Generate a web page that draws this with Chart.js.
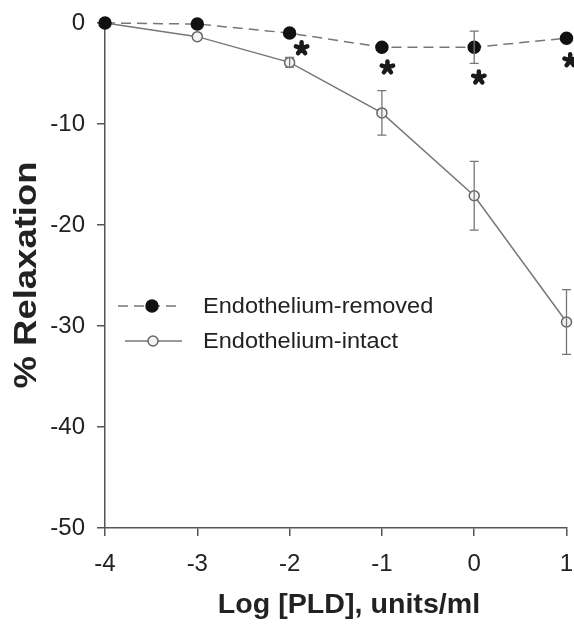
<!DOCTYPE html>
<html>
<head>
<meta charset="utf-8">
<script src="https://cdn.jsdelivr.net/npm/chart.js@4/dist/chart.umd.min.js"></script>
<style>
  html, body { margin: 0; padding: 0; background: #fff; }
  #wrap { width: 574px; height: 625px; }
</style>
</head>
<body>
<div id="wrap"><canvas id="relaxChart" width="574" height="625"></canvas></div>
<script>
// log [PLD] doses, units/ml
const doses = [-4, -3, -2, -1, 0, 1];

// % relaxation, mean and error
const removedMean = [0, -0.1, -1.0, -2.4, -2.4, -1.5];
const removedErr = [0, 0, 0, 0, 1.6, 0];
const intactMean = [0, -1.35, -3.9, -8.9, -17.1, -29.6];
const intactErr = [0, 0, 0.5, 2.2, 3.4, 3.2];

// significance markers (x, y in data units)
const starX = [-1.87, -0.94, 0.05, 1.04];
const starY = [-2.5, -4.4, -5.4, -3.7];

const yTicks = [0, -10, -20, -30, -40, -50];
const seriesNames = ["Endothelium-removed", "Endothelium-intact"];
const xTitle = "Log [PLD], units/ml";
const yTitle = "% Relaxation";

const textColor = "#222";
const axisColor = "#555";
const fontFamily = "'Liberation Sans', Arial, sans-serif";

function toPoints(xs, ys) {
  return xs.map((x, i) => ({ x: x, y: ys[i] }));
}

const errorBars = {
  id: "errorBars",
  afterDatasetsDraw(chart) {
    const { ctx, scales } = chart;
    const cap = 4.5;
    chart.data.datasets.forEach((ds) => {
      if (!ds.errors) return;
      ctx.save();
      ctx.strokeStyle = "#777";
      ctx.lineWidth = 1.3;
      ds.data.forEach((pt, i) => {
        const e = ds.errors[i];
        if (!e) return;
        const px = scales.x.getPixelForValue(pt.x);
        const top = scales.y.getPixelForValue(pt.y + e);
        const bot = scales.y.getPixelForValue(pt.y - e);
        ctx.beginPath();
        ctx.moveTo(px, top); ctx.lineTo(px, bot);
        ctx.moveTo(px - cap, top); ctx.lineTo(px + cap, top);
        ctx.moveTo(px - cap, bot); ctx.lineTo(px + cap, bot);
        ctx.stroke();
      });
      ctx.restore();
    });
  },
};

function drawStar(ctx, cx, cy, r) {
  ctx.beginPath();
  for (let k = 0; k < 5; k++) {
    const a = -Math.PI / 2 + (k * 2 * Math.PI) / 5;
    ctx.moveTo(cx, cy);
    ctx.lineTo(cx + r * Math.cos(a), cy + r * Math.sin(a));
  }
  ctx.stroke();
}

const stars = {
  id: "stars",
  afterDatasetsDraw(chart) {
    const { ctx, scales } = chart;
    ctx.save();
    ctx.strokeStyle = "#1a1a1a";
    ctx.lineWidth = 4.5;
    ctx.lineCap = "round";
    starX.forEach((x, i) => {
      drawStar(ctx, scales.x.getPixelForValue(x), scales.y.getPixelForValue(starY[i]), 6);
    });
    ctx.restore();
  },
};

// stretched text, the original lettering is wider than Arial
function wideText(ctx, text, x, y, stretch, angle) {
  ctx.save();
  ctx.translate(x, y);
  if (angle) ctx.rotate(angle);
  ctx.scale(stretch, 1);
  ctx.fillText(text, 0, 0);
  ctx.restore();
}

const axisTitles = {
  id: "axisTitles",
  afterDraw(chart) {
    const { ctx } = chart;
    ctx.save();
    ctx.fillStyle = textColor;
    ctx.textAlign = "center";
    ctx.textBaseline = "middle";
    ctx.font = "bold 27px " + fontFamily;
    wideText(ctx, xTitle, 349, 606, 1.06, 0);
    ctx.font = "bold 32px " + fontFamily;
    wideText(ctx, yTitle, 27, 275, 1.14, -Math.PI / 2);
    ctx.restore();
  },
};

const insetLegend = {
  id: "insetLegend",
  afterDraw(chart) {
    const { ctx } = chart;
    const rows = [
      { y: 306, x0: 118, x1: 178, mx: 152, dash: [10, 6], fill: "#111", stroke: "#111", r: 6 },
      { y: 341, x0: 125, x1: 182, mx: 153, dash: [], fill: "#f4f4f4", stroke: "#666", r: 5 },
    ];
    ctx.save();
    rows.forEach((row, i) => {
      ctx.strokeStyle = "#777";
      ctx.lineWidth = 1.5;
      ctx.setLineDash(row.dash);
      ctx.beginPath();
      ctx.moveTo(row.x0, row.y); ctx.lineTo(row.x1, row.y);
      ctx.stroke();
      ctx.setLineDash([]);
      ctx.beginPath();
      ctx.arc(row.mx, row.y, row.r, 0, Math.PI * 2);
      ctx.fillStyle = row.fill;
      ctx.fill();
      ctx.strokeStyle = row.stroke;
      ctx.stroke();
      ctx.fillStyle = textColor;
      ctx.font = "22px " + fontFamily;
      ctx.textBaseline = "middle";
      wideText(ctx, seriesNames[i], 203, row.y + 1, 1.07, 0);
    });
    ctx.restore();
  },
};

new Chart(document.getElementById("relaxChart"), {
  type: "line",
  data: {
    datasets: [
      {
        label: seriesNames[0],
        data: toPoints(doses, removedMean),
        errors: removedErr,
        borderColor: "#777",
        borderWidth: 1.5,
        borderDash: [10, 6],
        pointRadius: 6,
        pointBackgroundColor: "#111",
        pointBorderColor: "#111",
        tension: 0,
        clip: false,
      },
      {
        label: seriesNames[1],
        data: toPoints(doses, intactMean),
        errors: intactErr,
        borderColor: "#777",
        borderWidth: 1.5,
        pointRadius: 5,
        pointBorderWidth: 1.5,
        pointBackgroundColor: "#f4f4f4",
        pointBorderColor: "#666",
        tension: 0,
        clip: false,
      },
    ],
  },
  options: {
    responsive: false,
    animation: false,
    layout: { padding: { top: 23, right: 3, left: 0, bottom: 0 } },
    plugins: { legend: { display: false }, tooltip: { enabled: false } },
    scales: {
      x: {
        type: "linear",
        min: -4,
        max: 1,
        afterFit(scale) {
          scale.height = 97;
          scale.paddingLeft = 0;
          scale.paddingRight = 0;
        },
        ticks: {
          stepSize: 1,
          padding: 14,
          color: textColor,
          font: { family: fontFamily, size: 24 },
        },
        grid: { drawOnChartArea: false, drawTicks: true, tickLength: 8, color: axisColor, lineWidth: 1.5 },
        border: { display: true, color: axisColor, width: 1.5 },
      },
      y: {
        min: -50,
        max: 0,
        afterFit(scale) {
          scale.width = 105;
          scale.paddingTop = 0;
          scale.paddingBottom = 0;
        },
        afterBuildTicks(scale) {
          scale.ticks = yTicks.map((v) => ({ value: v }));
        },
        ticks: {
          padding: 12,
          color: textColor,
          font: { family: fontFamily, size: 24 },
        },
        grid: { drawOnChartArea: false, drawTicks: true, tickLength: 8, color: axisColor, lineWidth: 1.5 },
        border: { display: true, color: axisColor, width: 1.5 },
      },
    },
  },
  plugins: [errorBars, stars, axisTitles, insetLegend],
});
</script>
</body>
</html>
